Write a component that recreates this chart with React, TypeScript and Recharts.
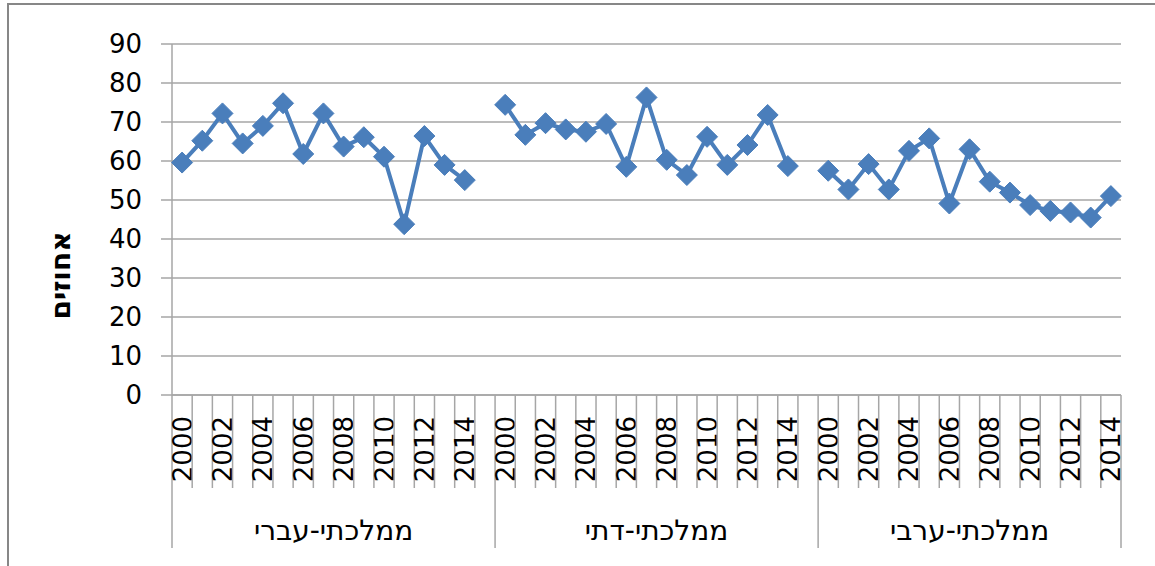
import React from 'react';
import { LineChart, Line, XAxis, YAxis, CartesianGrid } from 'recharts';

const years = [2000, 2001, 2002, 2003, 2004, 2005, 2006, 2007, 2008, 2009, 2010, 2011, 2012, 2013, 2014];
const groups = ['ממלכתי-עברי', 'ממלכתי-דתי', 'ממלכתי-ערבי'];
// number of empty spacer categories after each group (as in the source sheet)
const groupSpacers = [1, 1, 0];
const hebrewValues = [59.6, 65.2, 72.2, 64.5, 69.0, 74.8, 61.8, 72.2, 63.7, 66.1, 61.1, 43.8, 66.4, 59.0, 55.1];
const religiousValues = [74.4, 66.7, 69.7, 68.1, 67.5, 69.5, 58.5, 76.3, 60.3, 56.4, 66.2, 59.0, 64.1, 71.8, 58.7];
const arabValues = [57.5, 52.7, 59.2, 52.7, 62.6, 65.8, 49.1, 63.0, 54.7, 51.9, 48.7, 47.2, 46.8, 45.5, 51.0];
const yTicks = [0, 10, 20, 30, 40, 50, 60, 70, 80, 90];
const yTitle = 'אחוזים';

const seriesValues = [hebrewValues, religiousValues, arabValues];
const seriesKeys = ['g1', 'g2', 'g3'];

const data: any[] = groups.flatMap((g, gi) => {
  const n = years.length + groupSpacers[gi];
  const rows = years.map((year, yi) => {
    const row: any = { key: `${gi}-${year}`, year, group: g, gi, yi, n };
    row[seriesKeys[gi]] = seriesValues[gi][yi];
    return row;
  });
  for (let s = 0; s < groupSpacers[gi]; s++) {
    rows.push({ key: `${gi}-blank-${s}`, year: null, group: g, gi, yi: years.length + s, n });
  }
  return rows;
});

const CHART_W = 1146;
const CHART_H = 561;
const MARGIN = { top: 39, right: 34, left: 0, bottom: 11 };
const YAXIS_W = 163;
const XAXIS_H = 160;
const PLOT_W = CHART_W - MARGIN.left - YAXIS_W - MARGIN.right;
const STEP = PLOT_W / data.length;

const BLUE = '#4a7ebb';
const GRID = '#a6a6a6';
const FONT = 'DejaVu Sans';

const Diamond = (props: any) => {
  const { cx, cy, value } = props;
  if (value === null || value === undefined || cx == null || cy == null) return null;
  const r = 10.5;
  return (
    <polygon
      points={`${cx},${cy - r} ${cx + r},${cy} ${cx},${cy + r} ${cx - r},${cy}`}
      fill={BLUE}
      stroke={BLUE}
      strokeWidth={1}
    />
  );
};

const XTick = (props: any) => {
  const { x, y, index } = props;
  const row = data[index];
  if (!row) return null;
  const left = x - STEP / 2;
  const right = x + STEP / 2;
  const isGroupStart = row.yi === 0;
  const isLast = index === data.length - 1;
  const groupCenter = left + (row.n * STEP) / 2;
  return (
    <g>
      <line x1={left} x2={left} y1={y} y2={y + (isGroupStart ? 153 : 93)} stroke={GRID} strokeWidth={1.5} />
      {isLast && <line x1={right} x2={right} y1={y} y2={y + 153} stroke={GRID} strokeWidth={1.5} />}
      {row.year !== null && row.year % 2 === 0 && (
        <text
          x={x + 9.5}
          y={y + 21}
          transform={`rotate(-90 ${x + 9.5} ${y + 21})`}
          textAnchor="end"
          fontFamily={FONT}
          fontSize={26}
          fill="#000"
        >
          {row.year}
        </text>
      )}
      {isGroupStart && (
        <text x={groupCenter} y={y + 145} textAnchor="middle" fontFamily={FONT} fontSize={28} fill="#000" direction="rtl">
          {row.group}
        </text>
      )}
    </g>
  );
};

const renderTitle = (props: any) => {
  const vb = props.viewBox || { x: 0, y: MARGIN.top, width: YAXIS_W, height: 351 };
  const cx = vb.x + 51;
  const cy = vb.y + vb.height / 2 + 56;
  return (
    <text
      x={cx}
      y={cy}
      transform={`rotate(-90 ${cx} ${cy})`}
      textAnchor="middle"
      dominantBaseline="central"
      fontFamily={FONT}
      fontSize={28}
      fontWeight="bold"
      fill="#000"
    >
      {yTitle}
    </text>
  );
};

export default function App() {
  return (
    <div
      style={{
        position: 'absolute',
        left: 7,
        top: 3,
        width: CHART_W,
        height: CHART_H,
        borderLeft: '2px solid #878787',
        borderTop: '2px solid #878787',
        background: '#fff',
        overflow: 'hidden',
      }}
    >
      <LineChart width={CHART_W} height={CHART_H} data={data} margin={MARGIN}>
        <CartesianGrid vertical={false} stroke={GRID} strokeWidth={1.5} />
        <XAxis
          dataKey="key"
          interval={0}
          height={XAXIS_H}
          padding={{ left: STEP / 2, right: STEP / 2 }}
          tickSize={0}
          tickMargin={0}
          tickLine={false}
          axisLine={{ stroke: GRID, strokeWidth: 1.5 }}
          tick={<XTick />}
        />
        <YAxis
          domain={[0, 90]}
          ticks={yTicks}
          width={YAXIS_W}
          tickSize={11}
          tickMargin={19}
          axisLine={{ stroke: GRID, strokeWidth: 1.5 }}
          tickLine={{ stroke: GRID, strokeWidth: 1.5 }}
          tick={{ fill: '#000', fontSize: 26, fontFamily: FONT }}
          label={renderTitle}
        />
        {seriesKeys.map((k) => (
          <Line
            key={k}
            dataKey={k}
            stroke={BLUE}
            strokeWidth={4}
            dot={<Diamond />}
            activeDot={false}
            connectNulls={false}
            isAnimationActive={false}
          />
        ))}
      </LineChart>
    </div>
  );
}
